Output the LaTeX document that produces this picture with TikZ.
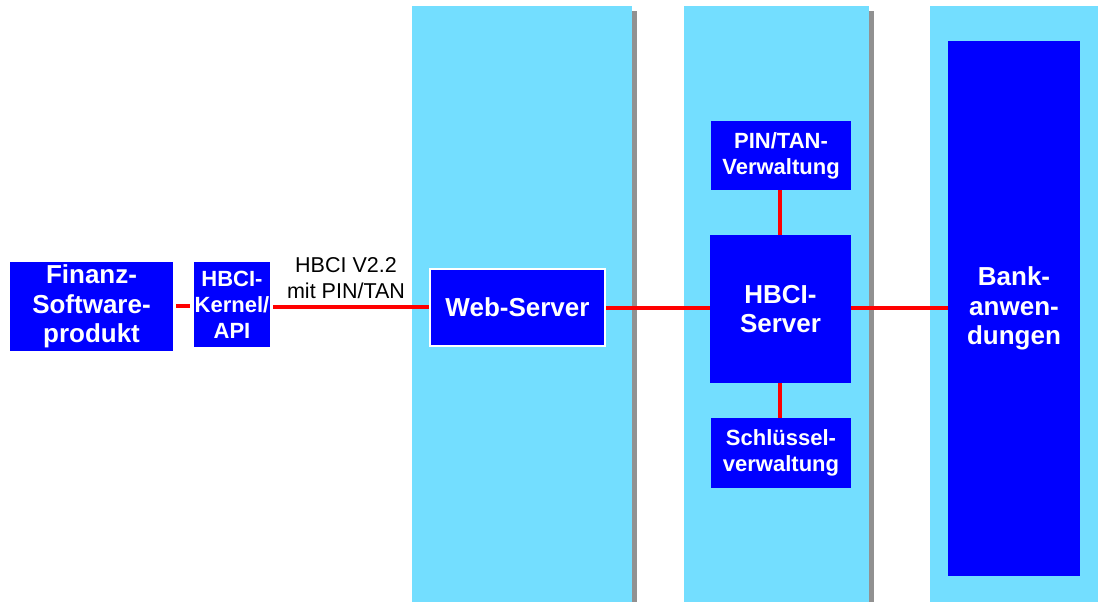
\documentclass[tikz,border=0pt]{standalone}
\usepackage{fontspec}
\setmainfont{Liberation Sans}
\definecolor{colfill}{RGB}{115,222,255}
\definecolor{shadowgray}{RGB}{145,145,145}
\definecolor{boxblue}{RGB}{0,0,255}
\definecolor{linered}{RGB}{255,0,0}
\tikzset{
  column/.style={fill=colfill, draw=none},
  colshadow/.style={fill=shadowgray, draw=none},
  bluebox/.style={fill=boxblue, draw=none, text=white, align=center, inner sep=0pt,
    font=\bfseries\fontsize{26}{29.5}\selectfont},
  smallbox/.style={bluebox, font=\bfseries\fontsize{22}{26}\selectfont},
  conn/.style={draw=linered, line width=4pt},
}
\begin{document}
\begin{tikzpicture}[x=1pt,y=-1pt]
\useasboundingbox (0,0) rectangle (1098,602);
% columns
\fill[colshadow] (632,11) rectangle (637,602);
\fill[column] (412,6) rectangle (632,602);
\fill[colshadow] (869,11) rectangle (874,602);
\fill[column] (684,6) rectangle (869,602);
\fill[column] (930,6) rectangle (1098,602);
% boxes
\node[bluebox, minimum width=163, minimum height=89] (fin) at (91.5,306.5) {Finanz-\\Software-\\produkt};
\node[smallbox, minimum width=76, minimum height=85] (ker) at (232,304.5) {HBCI-\\Kernel/\\API};
\node[bluebox, draw=white, line width=2pt, minimum width=175, minimum height=77] (web) at (517.5,307.5) {Web-Server};
\node[bluebox, minimum width=141, minimum height=148] (hbs) at (780.5,309) {HBCI-\\Server};
\node[smallbox, minimum width=140, minimum height=69] (pin) at (781,155.5) {PIN/TAN-\\Verwaltung};
\node[smallbox, minimum width=140, minimum height=70] (key) at (781,453) {Schlüssel-\\verwaltung};
\node[bluebox, minimum width=132, minimum height=535] (bank) at (1014,308.5) {Bank-\\anwen-\\dungen};
% label
\node[align=center, inner sep=0pt, font=\fontsize{21.5}{26}\selectfont] (lbl) at (346,278) {HBCI V2.2\\mit PIN/TAN};
% connectors
\draw[conn, shorten <=3pt, shorten >=4pt] (fin.east |- 0,306) -- (ker.west |- 0,306);
\draw[conn, shorten <=3pt] (ker.east |- 0,307) -- (web.west |- 0,307);
\draw[conn] (web.east |- 0,308) -- (hbs.west |- 0,308);
\draw[conn] (hbs.east |- 0,308) -- (bank.west |- 0,308);
\draw[conn] (pin.south -| 780,0) -- (hbs.north -| 780,0);
\draw[conn] (hbs.south -| 780,0) -- (key.north -| 780,0);
\end{tikzpicture}
\end{document}
